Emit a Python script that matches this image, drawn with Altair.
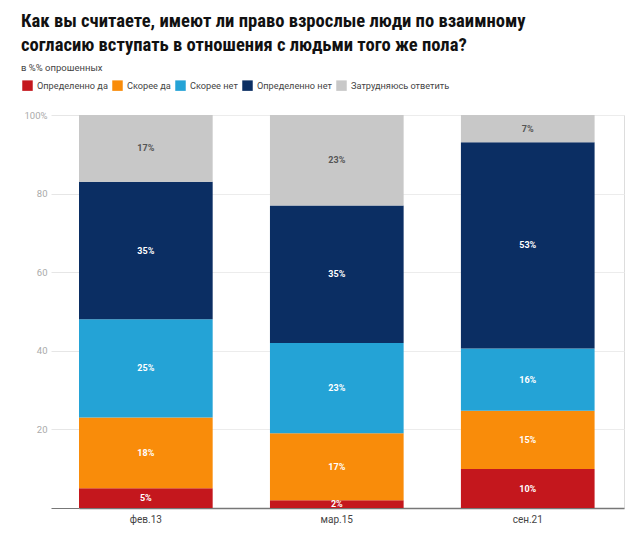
import altair as alt
import pandas as pd

periods = ["фев.13", "мар.15", "сен.21"]
categories = ["Определенно да", "Скорее да", "Скорее нет", "Определенно нет", "Затрудняюсь ответить"]
colors = ["#c4171d", "#f98c0a", "#24a3d6", "#0b2e63", "#c8c8c8"]

definitely_yes = [5, 2, 10]
rather_yes = [18, 17, 15]
rather_no = [25, 23, 16]
definitely_no = [35, 35, 53]
hard_to_say = [17, 23, 7]

series = [definitely_yes, rather_yes, rather_no, definitely_no, hard_to_say]

rows = []
for ci, (cat, vals) in enumerate(zip(categories, series)):
    for p, v in zip(periods, vals):
        rows.append({"period": p, "category": cat, "order": ci, "value": v, "label": f"{v}%"})
df = pd.DataFrame(rows)

FONT = "Roboto"

base = alt.Chart(df).transform_stack(
    stack="value",
    groupby=["period"],
    as_=["y0", "y1"],
    offset="normalize",
    sort=[alt.SortField("order", order="ascending")],
).transform_calculate(mid="(datum.y0 + datum.y1) / 2")

xenc = alt.X(
    "period:N",
    sort=periods,
    scale=alt.Scale(paddingInner=0.3, paddingOuter=0.077, align=0),
    axis=alt.Axis(
        title=None, labelAngle=0, ticks=False, domainColor="#777777", domainWidth=1.5,
        labelColor="#444444", labelFontSize=10, labelFont=FONT, labelPadding=6,
    ),
)

yscale = alt.Scale(domain=[0, 1])

bars = base.mark_bar().encode(
    x=xenc,
    y=alt.Y(
        "y0:Q",
        scale=yscale,
        axis=alt.Axis(
            title=None,
            values=[0, 0.2, 0.4, 0.6, 0.8, 1.0],
            labelExpr="datum.value >= 0.999 ? '100%' : (datum.value == 0 ? '' : format(datum.value * 100, 'd'))",
            grid=True, gridColor="#ececec", domain=False,
            tickSize=28,
            tickColor={"condition": {"test": "datum.value === 0", "value": "#777777"}, "value": "#e6e6e6"},
            labelColor="#aaaaaa", labelFontSize=9.5, labelFont=FONT, labelPadding=4,
        ),
    ),
    y2="y1:Q",
    color=alt.Color(
        "category:N",
        scale=alt.Scale(domain=categories, range=colors),
        sort=categories,
        legend=alt.Legend(
            title=None, orient="none", direction="horizontal", legendX=-57, legendY=-35,
            symbolType="square", symbolSize=110, symbolStrokeWidth=0, symbolOpacity=1,
            labelFont=FONT, labelFontSize=9.2, labelColor="#444444",
            columnPadding=4, labelOffset=4, columns=5,
        ),
    ),
)

texts = base.mark_text(font=FONT, fontSize=9, fontWeight="bold").encode(
    x=alt.X("period:N", sort=periods),
    y=alt.Y("mid:Q", scale=yscale),
    text="label:N",
    color=alt.condition(
        "datum.category == 'Затрудняюсь ответить'", alt.value("#555555"), alt.value("#ffffff")
    ),
)

chart = alt.layer(bars, texts).properties(
    width=545,
    height=393,
    padding={"left": 21, "top": 11, "right": 10, "bottom": 5},
    title=alt.TitleParams(
        text=["Как вы считаете, имеют ли право взрослые люди по взаимному",
              "согласию вступать в отношения с людьми того же пола?"],
        subtitle="в %% опрошенных",
        anchor="start", frame="bounds",
        font="Liberation Sans Narrow, Roboto Condensed, Roboto", fontSize=18.6, fontWeight="bold",
        color="#111111", lineHeight=24,
        subtitleFont=FONT, subtitleFontSize=9.5, subtitleColor="#444444", subtitlePadding=8,
        offset=8, dx=-1,
    ),
).configure_view(stroke=None).configure(background="white")

chart.save("out.html", embed_options={"renderer": "svg", "actions": False})
